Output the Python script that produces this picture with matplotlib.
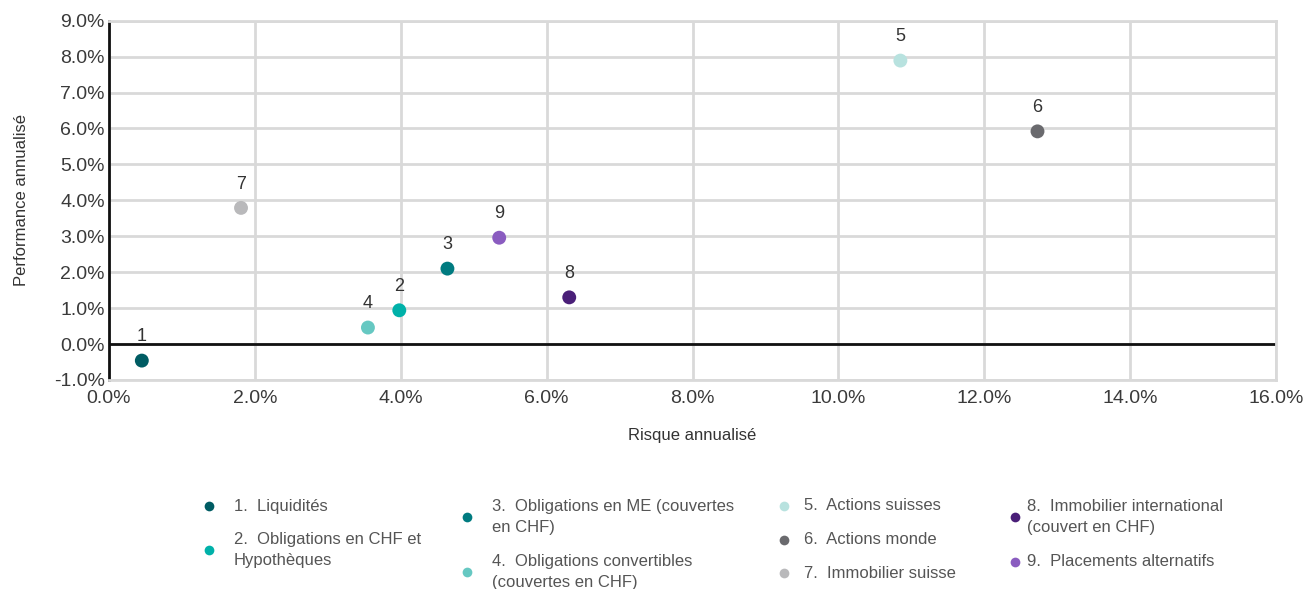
import matplotlib
matplotlib.use("Agg")
import matplotlib.pyplot as plt
from matplotlib.lines import Line2D

plt.rcParams['font.family'] = ['Liberation Sans', 'DejaVu Sans']

labels = ["1", "2", "3", "4", "5", "6", "7", "8", "9"]
risk = [0.45, 3.98, 4.64, 3.55, 10.85, 12.73, 1.81, 6.31, 5.35]
perf = [-0.46, 0.94, 2.10, 0.46, 7.89, 5.92, 3.79, 1.30, 2.96]
colors = ["#005c63", "#00b1a9", "#007b80", "#66c8c2", "#b8e2df",
          "#6a6a6e", "#b9b9bb", "#4a1f78", "#8a5cc0"]
names = ["1.  Liquidités",
         "2.  Obligations en CHF et\nHypothèques",
         "3.  Obligations en ME (couvertes\nen CHF)",
         "4.  Obligations convertibles\n(couvertes en CHF)",
         "5.  Actions suisses",
         "6.  Actions monde",
         "7.  Immobilier suisse",
         "8.  Immobilier international\n(couvert en CHF)",
         "9.  Placements alternatifs"]
xticks = [0, 2, 4, 6, 8, 10, 12, 14, 16]
yticks = [-1, 0, 1, 2, 3, 4, 5, 6, 7, 8, 9]

W, H = 1305, 589
fig = plt.figure(figsize=(W / 100, H / 100), dpi=100)
ax = fig.add_axes([109 / W, 1 - 380 / H, (1276 - 109) / W, (380 - 20.7) / H])

ax.set_xlim(0, 16)
ax.set_ylim(-1, 9)
ax.set_xticks(xticks)
ax.set_yticks(yticks)
ax.set_xticklabels([f"{v:.1f}%" for v in xticks])
ax.set_yticklabels([f"{v:.1f}%" for v in yticks])
ax.grid(True, color="#d9d9d9", linewidth=2)
ax.set_axisbelow(True)
for s in ["top", "right", "bottom"]:
    ax.spines[s].set_color("#d9d9d9")
    ax.spines[s].set_linewidth(2)
ax.spines["left"].set_color("#111111")
ax.spines["left"].set_linewidth(2)
ax.axhline(0, color="#111111", linewidth=2, zorder=2)
ax.tick_params(length=0, labelsize=14, colors="#3a3a3a", pad=3)
ax.tick_params(axis="x", pad=7)

ax.scatter(risk, perf, s=100, c=colors, zorder=3, linewidths=0)
for x, y, l in zip(risk, perf, labels):
    ax.annotate(l, (x, y), xytext=(0, 11), textcoords="offset points",
                ha="center", va="bottom", fontsize=13, color="#333333")

ax.set_xlabel("Risque annualisé", fontsize=12, color="#333333", labelpad=15)
ax.set_ylabel("Performance annualisé", fontsize=12, color="#333333", labelpad=18)

# legend (manual layout)
marker_pos = [(209, 506), (209, 550), (467, 517), (467, 572),
              (784, 506), (784, 540), (784, 573), (1015, 517), (1015, 562)]
text_x = [234, 234, 492, 492, 804, 804, 804, 1027, 1027]
for i, (name, c) in enumerate(zip(names, colors)):
    mx, my = marker_pos[i]
    fig.add_artist(Line2D([mx / W], [1 - my / H], marker="o", markersize=7,
                          color=c, markeredgewidth=0, linestyle="none",
                          transform=fig.transFigure))
    fig.text(text_x[i] / W, 1 - my / H, name, fontsize=12, color="#555555",
             va="center", ha="left", linespacing=1.45)

fig.savefig("out.png", dpi=100)
